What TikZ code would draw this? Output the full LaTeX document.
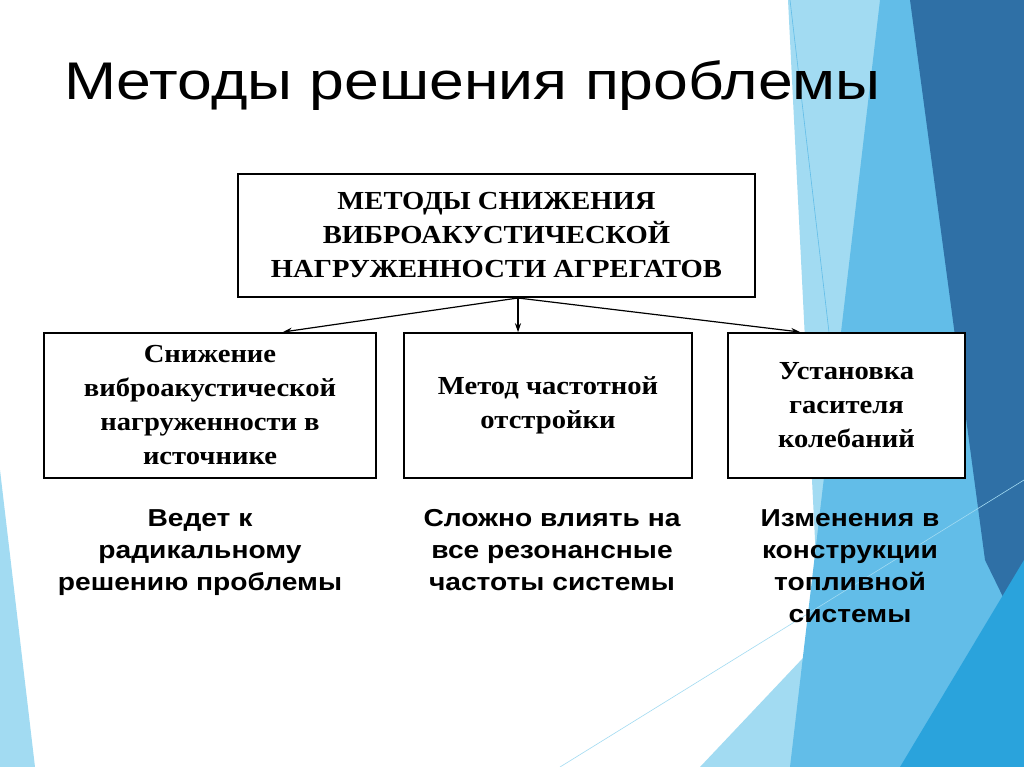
\documentclass[tikz,border=0pt]{standalone}
\usepackage{fontspec}
\usetikzlibrary{arrows.meta}
\setmainfont{Liberation Serif}[FakeStretch=1.1]
\newfontfamily\arial{Liberation Sans}[FakeStretch=1.15]
\newfontfamily\arialt{Liberation Sans}[FakeStretch=1.18]
\definecolor{bgl}{HTML}{A2DBF2}
\definecolor{bgm}{HTML}{62BDE8}
\definecolor{bgd}{HTML}{2F70A6}
\definecolor{bgb}{HTML}{2AA3DC}
\begin{document}
\begin{tikzpicture}[x=1pt,y=-1pt,
  bx/.style={draw=black,line width=1.5pt,fill=white,inner sep=0pt,font=\bfseries\fontsize{26}{34}\selectfont,align=center},
  note/.style={font=\arial\bfseries\fontsize{24.5}{32}\selectfont,align=center,anchor=north},
  arr/.style={-{Stealth[length=9pt,width=6pt]},line width=1.2pt}]
\useasboundingbox (0,0) rectangle (1024,767);
\fill[white] (0,0) rectangle (1024,767);
% background
\fill[bgl] (0,470) -- (35,767) -- (0,767) -- cycle;
\fill[bgl] (788,0) -- (1024,0) -- (1024,767) -- (700,767) -- (820,640) -- cycle;
\fill[bgm] (880,0) -- (1024,0) -- (1024,767) -- (790,767) -- cycle;
\fill[bgd] (910,0) -- (1024,0) -- (1024,640) -- (985,560) -- cycle;
\fill[bgb] (1024,560) -- (1024,767) -- (900,767) -- cycle;
\draw[bgm,line width=0.6pt] (790,0) -- (880,767);
\draw[bgl,line width=0.6pt] (560,767) -- (1024,480);
% title
\node[anchor=base west,font=\arialt\fontsize{53}{60}\selectfont,inner sep=0pt] (title) at (64,100) {Методы решения проблемы};
% boxes
\node[bx,minimum width=517,minimum height=123] (top) at (496.5,235.5) {МЕТОДЫ СНИЖЕНИЯ\\ВИБРОАКУСТИЧЕСКОЙ\\НАГРУЖЕННОСТИ АГРЕГАТОВ};
\node[bx,minimum width=332,minimum height=145] (b1) at (210,405.5) {Снижение\\виброакустической\\нагруженности в\\источнике};
\node[bx,minimum width=288,minimum height=145] (b2) at (548,405.5) {Метод частотной\\отстройки};
\node[bx,minimum width=237,minimum height=145] (b3) at (846.5,405.5) {Установка\\гасителя\\колебаний};
\coordinate (s) at (518,298);
\draw[arr] (s) -- (283,332);
\draw[arr] (s) -- (b2.north -| s);
\draw[arr] (s) -- (800,332);
% notes
\node[note] (n1) at (200,506) {Ведет к\\радикальному\\решению проблемы};
\node[note] (n2) at (552,506) {Сложно влиять на\\все резонансные\\частоты системы};
\node[note] (n3) at (850,506) {Изменения в\\конструкции\\топливной\\системы};
\end{tikzpicture}
\end{document}
